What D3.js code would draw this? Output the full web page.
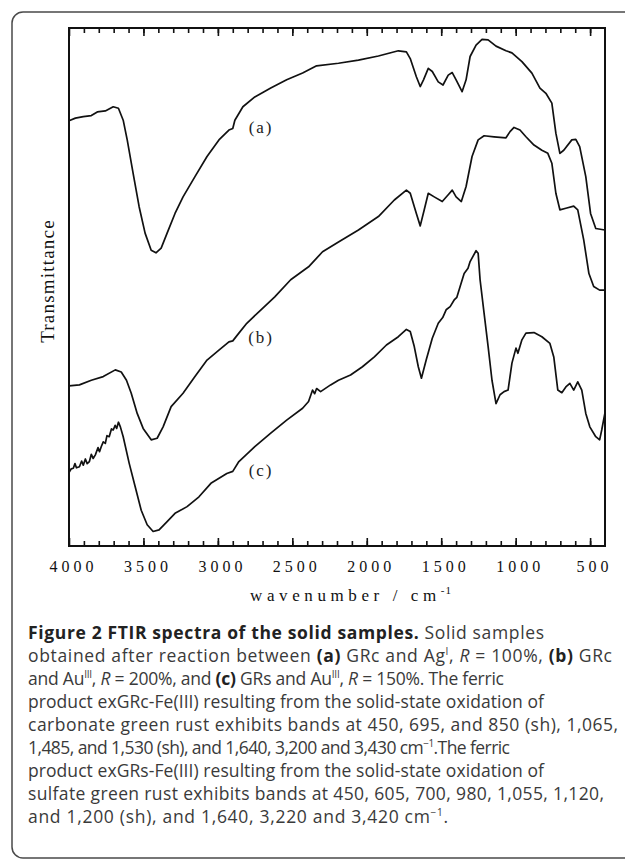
<!DOCTYPE html>
<html>
<head>
<meta charset="utf-8">
<script src="https://cdn.jsdelivr.net/npm/d3@7"></script>
<style>
  body { margin: 0; background: #fff; }
  svg { display: block; }
</style>
</head>
<body>
<script>
// spectra: [wavenumber cm-1, transmittance (arb.)]
var seriesA = [
  [4000, 82.1], [3957, 82.6], [3904, 82.9], [3850, 83.1], [3810, 83.8], [3756, 84.0],
  [3703, 84.8], [3668, 84.5], [3636, 82.2], [3609, 78.4], [3569, 71.9], [3529, 65.5],
  [3489, 60.4], [3448, 57.1], [3416, 56.6], [3381, 57.5], [3341, 60.4], [3288, 64.2],
  [3234, 67.4], [3154, 71.3], [3073, 75.2], [2993, 78.4], [2926, 80.3], [2900, 80.6],
  [2886, 82.2], [2832, 84.8], [2752, 86.7], [2645, 88.4], [2538, 90.0], [2431, 91.3],
  [2337, 92.7], [2190, 93.2], [2056, 93.8], [1922, 94.6], [1788, 95.6], [1734, 95.4],
  [1708, 94.1], [1667, 90.6], [1641, 88.7], [1619, 90.0], [1587, 92.2], [1560, 91.6],
  [1520, 89.6], [1488, 89.0], [1453, 90.9], [1426, 91.4], [1400, 90.0], [1360, 87.7],
  [1333, 90.0], [1306, 94.5], [1266, 96.7], [1226, 97.8], [1185, 97.7], [1132, 96.5],
  [1065, 95.6], [1025, 95.2], [958, 93.5], [891, 91.3], [837, 88.4], [797, 87.4],
  [757, 85.5], [730, 79.7], [703, 75.8], [677, 76.4], [623, 78.4], [596, 78.5],
  [570, 77.1], [529, 71.3], [497, 64.2], [462, 61.3], [401, 61.0]
];
var seriesB = [
  [4000, 30.9], [3930, 31.1], [3850, 32.0], [3770, 32.7], [3689, 34.0], [3649, 33.6],
  [3614, 32.0], [3582, 29.5], [3542, 25.6], [3502, 22.7], [3448, 20.5], [3408, 20.8],
  [3368, 23.0], [3314, 26.9], [3234, 29.5], [3154, 32.7], [3073, 35.9], [2993, 37.8],
  [2926, 39.4], [2900, 39.6], [2859, 41.1], [2806, 43.0], [2725, 45.2], [2618, 48.1],
  [2511, 51.4], [2391, 53.9], [2297, 56.8], [2190, 58.7], [2056, 61.0], [1922, 63.6],
  [1815, 66.8], [1734, 68.7], [1708, 68.1], [1667, 64.2], [1641, 61.8], [1614, 64.9],
  [1587, 68.1], [1547, 67.4], [1493, 66.5], [1453, 67.8], [1426, 68.7], [1400, 67.4],
  [1365, 66.5], [1333, 69.4], [1293, 75.2], [1252, 78.4], [1212, 79.2], [1145, 79.0],
  [1065, 78.8], [1038, 80.0], [1011, 80.8], [971, 80.3], [931, 79.0], [877, 77.4],
  [824, 76.4], [784, 75.8], [757, 73.9], [730, 68.1], [703, 64.9], [663, 65.2],
  [610, 65.6], [583, 64.9], [543, 59.1], [508, 52.6], [476, 50.1], [436, 49.4], [401, 49.4]
];
var seriesC = [
  [4000, 14.2], [3985, 14.9], [3971, 15.0], [3960, 15.9], [3950, 15.1], [3930, 15.3],
  [3915, 16.4], [3904, 15.6], [3890, 16.8], [3878, 15.9], [3863, 16.3], [3850, 17.7],
  [3838, 16.9], [3823, 17.6], [3805, 19.0], [3795, 18.2], [3783, 19.2], [3770, 20.1],
  [3756, 19.8], [3745, 21.3], [3730, 21.1], [3715, 22.6], [3703, 22.4], [3690, 23.3],
  [3680, 22.7], [3668, 23.9], [3655, 23.0], [3636, 21.1], [3596, 16.0], [3555, 11.4],
  [3515, 6.9], [3475, 4.1], [3435, 2.8], [3395, 3.1], [3341, 4.7], [3288, 6.3],
  [3207, 7.6], [3127, 9.5], [3047, 12.1], [2940, 14.0], [2900, 14.4], [2859, 16.3],
  [2752, 19.2], [2645, 21.8], [2538, 24.3], [2431, 26.6], [2391, 27.9], [2364, 30.1],
  [2350, 29.4], [2337, 30.4], [2310, 29.8], [2243, 31.1], [2190, 32.0], [2109, 33.0],
  [2029, 34.6], [1949, 36.5], [1868, 38.8], [1788, 40.4], [1734, 41.8], [1708, 41.4],
  [1681, 38.5], [1654, 34.6], [1633, 32.4], [1601, 35.9], [1560, 40.1], [1520, 43.0],
  [1490, 44.1], [1467, 45.6], [1440, 46.2], [1413, 47.5], [1395, 48.0], [1373, 50.1],
  [1346, 52.6], [1320, 53.6], [1306, 54.9], [1266, 57.0], [1252, 56.5], [1239, 51.4],
  [1212, 44.9], [1185, 38.5], [1159, 32.0], [1132, 27.5], [1105, 29.2], [1078, 29.8],
  [1051, 30.1], [1025, 35.3], [998, 38.2], [985, 37.2], [958, 39.8], [931, 41.1],
  [877, 41.2], [824, 40.4], [770, 39.1], [744, 36.5], [717, 30.1], [690, 29.6],
  [663, 30.7], [636, 31.4], [610, 30.1], [583, 31.7], [556, 30.1], [529, 25.6],
  [502, 23.0], [462, 21.1], [436, 20.5], [422, 22.4], [401, 25.6]
];
var allSeries = [seriesA, seriesB, seriesC];
var seriesLabels = ["(a)", "(b)", "(c)"];
var labelWave = 2710;
var labelT = [80.9, 40.3, 14.7];

var majorTicks = [4000, 3500, 3000, 2500, 2000, 1500, 1000, 500];
var minorTicks = d3.range(3900, 400, -100);

var xTitle = "wavenumber / cm";
var xTitleSup = "-1";
var yTitle = "Transmittance";

// caption lines: [text, style] pieces
var caption = [
  [["Figure 2 FTIR spectra of the solid samples.", "b"], [" Solid samples", ""]],
  [["obtained after reaction between ", ""], ["(a)", "b"], [" GRc and Ag", ""], ["I", "sup"], [", ", ""], ["R", "i"], [" = 100%, ", ""], ["(b)", "b"], [" GRc", ""]],
  [["and Au", ""], ["III", "sup"], [", ", ""], ["R", "i"], [" = 200%, and ", ""], ["(c)", "b"], [" GRs and Au", ""], ["III", "sup"], [", ", ""], ["R", "i"], [" = 150%. The ferric", ""]],
  [["product exGRc-Fe(III) resulting from the solid-state oxidation of", ""]],
  [["carbonate green rust exhibits bands at 450, 695, and 850 (sh), 1,065,", ""]],
  [["1,485, and 1,530 (sh), and 1,640, 3,200 and 3,430 cm", ""], ["\u22121", "sup"], [".The ferric", ""]],
  [["product exGRs-Fe(III) resulting from the solid-state oxidation of", ""]],
  [["sulfate green rust exhibits bands at 450, 605, 700, 980, 1,055, 1,120,", ""]],
  [["and 1,200 (sh), and 1,640, 3,220 and 3,420 cm", ""], ["\u22121", "sup"], [".", ""]]
];
// set width of each caption line (layout)
var captionLineWidth = [516, 584, 476, 516, 590, 482, 516, 576, 420];

var width = 625;
var height = 864;
var margin = {left: 69, right: 20, top: 28, bottom: 318};
var plotW = width - margin.left - margin.right;
var plotH = height - margin.top - margin.bottom;
var serif = "'Liberation Serif', 'Times New Roman', serif";

var svg = d3.select("body")
  .append("svg")
  .attr("width", width)
  .attr("height", height);

// panel frame (runs off the right edge)
svg.append("rect")
  .attr("x", 12)
  .attr("y", 12)
  .attr("width", 700)
  .attr("height", 846)
  .attr("rx", 11)
  .attr("fill", "none")
  .attr("stroke", "#4a4a4a")
  .attr("stroke-width", 1.5);

var xScale = d3.scaleLinear()
  .domain([4000, 400])
  .range([0, plotW]);

var yScale = d3.scaleLinear()
  .domain([0, 100])
  .range([plotH, 0]);

var g = svg.append("g")
  .attr("transform", "translate(" + margin.left + "," + margin.top + ")");

// ticks, pointing inwards
g.append("g")
  .attr("transform", "translate(0," + plotH + ")")
  .call(d3.axisBottom(xScale).tickValues(minorTicks).tickSize(-5).tickFormat(""));
g.append("g")
  .call(d3.axisTop(xScale).tickValues(minorTicks).tickSize(-5).tickFormat(""));

var xAxis = g.append("g")
  .attr("transform", "translate(0," + plotH + ")")
  .call(d3.axisBottom(xScale).tickValues(majorTicks).tickSize(-8).tickPadding(15).tickFormat(d3.format("d")));
xAxis.selectAll("text")
  .attr("dx", 4)
  .attr("font-family", serif)
  .attr("font-size", "16px")
  .attr("letter-spacing", "4px")
  .attr("fill", "#111");
g.append("g")
  .call(d3.axisTop(xScale).tickValues(majorTicks).tickSize(-8).tickFormat(""));

g.selectAll(".domain").remove();
g.selectAll(".tick line")
  .attr("stroke", "#111")
  .attr("stroke-width", 1.6);

g.append("rect")
  .attr("width", plotW)
  .attr("height", plotH)
  .attr("fill", "none")
  .attr("stroke", "#111")
  .attr("stroke-width", 2);

var line = d3.line()
  .x(function(d) { return xScale(d[0]); })
  .y(function(d) { return yScale(d[1]); });

g.selectAll(".spectrum")
  .data(allSeries)
  .enter()
  .append("path")
  .attr("class", "spectrum")
  .attr("d", line)
  .attr("fill", "none")
  .attr("stroke", "#111")
  .attr("stroke-width", 1.7)
  .attr("stroke-linejoin", "round");

g.selectAll(".curve-label")
  .data(seriesLabels)
  .enter()
  .append("text")
  .attr("class", "curve-label")
  .attr("x", xScale(labelWave))
  .attr("y", function(d, i) { return yScale(labelT[i]); })
  .attr("dy", "0.35em")
  .attr("text-anchor", "middle")
  .attr("font-family", serif)
  .attr("font-size", "17px")
  .attr("letter-spacing", "2px")
  .attr("fill", "#222")
  .text(function(d) { return d; });

// axis titles
var xt = svg.append("text")
  .attr("x", margin.left + plotW / 2 + 14)
  .attr("y", 601)
  .attr("text-anchor", "middle")
  .attr("font-family", serif)
  .attr("font-size", "17px")
  .attr("letter-spacing", "4.6px")
  .attr("fill", "#111");
xt.append("tspan").text(xTitle);
xt.append("tspan")
  .attr("dy", -7)
  .attr("font-size", "11px")
  .attr("letter-spacing", "1px")
  .text(xTitleSup);

svg.append("text")
  .attr("transform", "translate(54,281) rotate(-90)")
  .attr("text-anchor", "middle")
  .attr("font-family", serif)
  .attr("font-size", "19px")
  .attr("letter-spacing", "1.2px")
  .attr("fill", "#111")
  .text(yTitle);

// caption
var cap = svg.append("g")
  .attr("font-family", "'Open Sans', 'Noto Sans', sans-serif")
  .attr("font-size", "17.5px")
  .attr("fill", "#3a3a3a");

caption.forEach(function(parts, i) {
  var t = cap.append("text")
    .attr("x", 28)
    .attr("y", 639 + i * 23)
    .attr("textLength", captionLineWidth[i])
    .attr("lengthAdjust", "spacing");
  var shift = 0;
  parts.forEach(function(p) {
    var s = t.append("tspan").text(p[0]);
    if (p[1] === "sup") {
      s.attr("font-size", "10px").attr("dy", -7);
      shift = 7;
      return;
    }
    if (shift) { s.attr("dy", shift); shift = 0; }
    if (p[1] === "b") s.attr("font-weight", "bold").attr("fill", "#222");
    if (p[1] === "i") s.attr("font-style", "italic");
  });
});
</script>
</body>
</html>
